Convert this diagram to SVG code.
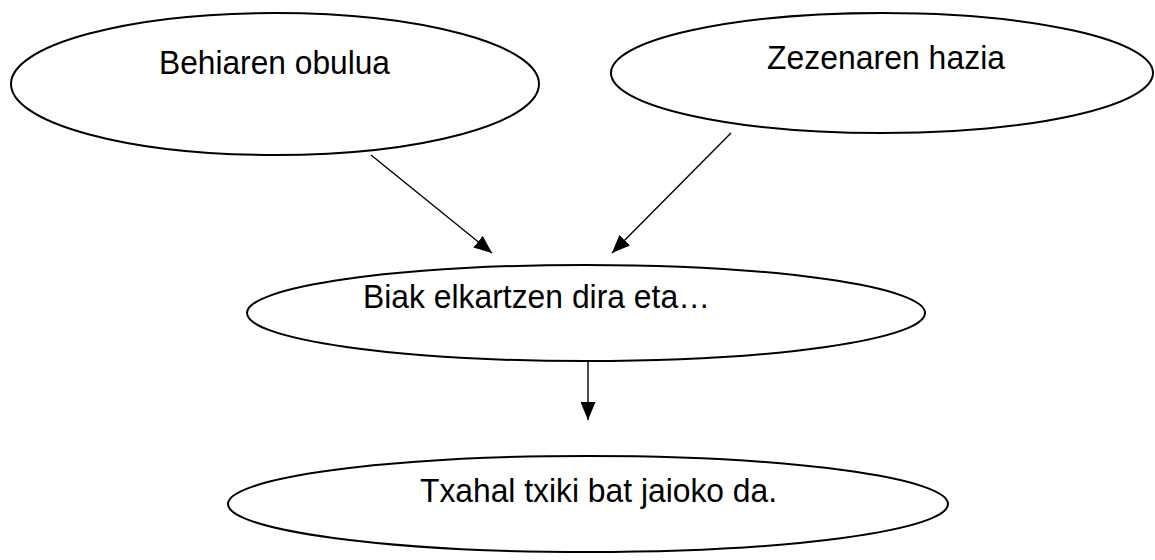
<svg xmlns="http://www.w3.org/2000/svg" width="1155" height="560" viewBox="0 0 1155 560">
<style>
.node ellipse{fill:#fff;stroke:#000;stroke-width:2}
.node text{font-family:"Liberation Sans",Arial,sans-serif;font-size:33px;fill:#000}
.conn line{stroke:#000;stroke-width:1.4}
</style>
<defs>
<marker id="ah" viewBox="0 0 10 10" refX="10" refY="5" markerWidth="18" markerHeight="15" markerUnits="userSpaceOnUse" orient="auto" preserveAspectRatio="none">
<path d="M0,0 L10,5 L0,10 z" fill="#000"/>
</marker>
</defs>
<rect width="1155" height="560" fill="#fff"/>
<g id="n1" class="node">
<ellipse cx="275" cy="84" rx="264" ry="71"/>
<text x="159" y="74" textLength="231" lengthAdjust="spacingAndGlyphs">Behiaren obulua</text>
</g>
<g id="n2" class="node">
<ellipse cx="882" cy="73" rx="271" ry="60"/>
<text x="767" y="69" textLength="238" lengthAdjust="spacingAndGlyphs">Zezenaren hazia</text>
</g>
<g id="n3" class="node">
<ellipse cx="586" cy="313" rx="339" ry="48"/>
<text x="363" y="308" textLength="347" lengthAdjust="spacingAndGlyphs">Biak elkartzen dira eta…</text>
</g>
<g id="n4" class="node">
<ellipse cx="588" cy="504" rx="360" ry="48"/>
<text x="420" y="502" textLength="357" lengthAdjust="spacingAndGlyphs">Txahal txiki bat jaioko da.</text>
</g>
<g id="connectors" class="conn">
<line x1="371" y1="155" x2="492" y2="253" marker-end="url(#ah)"/>
<line x1="731" y1="133" x2="612" y2="253" marker-end="url(#ah)"/>
<line x1="588" y1="361" x2="588" y2="420" marker-end="url(#ah)"/>
</g>
</svg>
